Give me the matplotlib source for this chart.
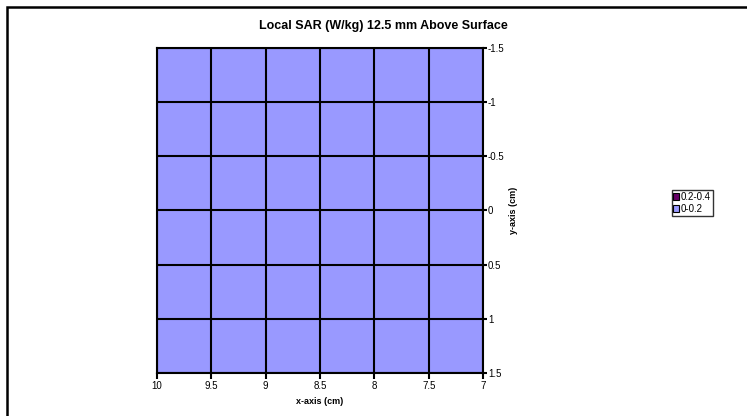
import matplotlib.pyplot as plt
import numpy as np
from matplotlib.colors import ListedColormap
from matplotlib.patches import Patch, Rectangle

plt.rcParams['font.family'] = ['Liberation Sans', 'DejaVu Sans']

# сетка измерений
x_cm = [10, 9.5, 9, 8.5, 8, 7.5, 7]
y_cm = [-1.5, -1, -0.5, 0, 0.5, 1, 1.5]
x_labels = ['10', '9.5', '9', '8.5', '8', '7.5', '7']
y_labels = ['-1.5', '-1', '-0.5', '0', '0.5', '1', '1.5']

# локальный SAR (W/kg), все значения ниже 0.2
sar = [
    [0.03, 0.04, 0.05, 0.05, 0.05, 0.04, 0.03],
    [0.04, 0.05, 0.06, 0.07, 0.06, 0.05, 0.04],
    [0.04, 0.06, 0.07, 0.08, 0.07, 0.06, 0.05],
    [0.05, 0.06, 0.08, 0.09, 0.08, 0.06, 0.05],
    [0.04, 0.06, 0.07, 0.08, 0.07, 0.06, 0.05],
    [0.04, 0.05, 0.06, 0.07, 0.06, 0.05, 0.04],
    [0.03, 0.04, 0.05, 0.05, 0.05, 0.04, 0.03],
]
levels = [0, 0.2, 0.4]
level_names = ['0-0.2', '0.2-0.4']
level_colors = ['#9999FF', '#660066']

fig = plt.figure(figsize=(7.47, 4.16), dpi=100)
ax = fig.add_axes([0.2102, 0.1034, 0.4364, 0.7812])

X, Y = np.meshgrid(x_cm, y_cm)
ax.contourf(X, Y, np.array(sar), levels=levels, cmap=ListedColormap(level_colors))

ax.set_xlim(10, 7)
ax.set_ylim(1.5, -1.5)
ax.set_xticks(x_cm)
ax.set_xticklabels(x_labels)
ax.set_yticks(y_cm)
ax.set_yticklabels(y_labels)
ax.yaxis.tick_right()
ax.yaxis.set_label_position('right')
ax.tick_params(axis='x', direction='out', length=4, width=1.5, labelsize=7, pad=2)
ax.tick_params(axis='y', direction='out', length=3, width=1.5, labelsize=7, pad=0.5)
ax.grid(True, color='black', linewidth=1.5)
for s in ax.spines.values():
    s.set_linewidth(1.5)

ax.set_xlabel('x-axis (cm)', fontsize=6.5, fontweight='bold', labelpad=4)
ax.set_ylabel('y-axis (cm)', fontsize=6.5, fontweight='bold', labelpad=3)

fig.text(0.513, 0.937, 'Local SAR (W/kg) 12.5 mm Above Surface',
         ha='center', va='center', fontsize=9, fontweight='bold')

# легенда
handles = [Patch(facecolor=c, edgecolor='black', linewidth=0.8, label=n)
           for c, n in zip(level_colors[::-1], level_names[::-1])]
fig.legend(handles=handles, loc='center left', bbox_to_anchor=(0.899, 0.512),
           fontsize=7, frameon=True, fancybox=False, edgecolor='black',
           handlelength=0.55, handleheight=0.8, handletextpad=0.2,
           labelspacing=0.2, borderpad=0.2, borderaxespad=0)

# рамка области диаграммы
fig.patches.append(Rectangle((7 / 747, -0.1), 1.1, 1 - 7 / 416 + 0.1,
                             transform=fig.transFigure, fill=False,
                             edgecolor='black', linewidth=1.8))

fig.savefig('out.png', dpi=100)
